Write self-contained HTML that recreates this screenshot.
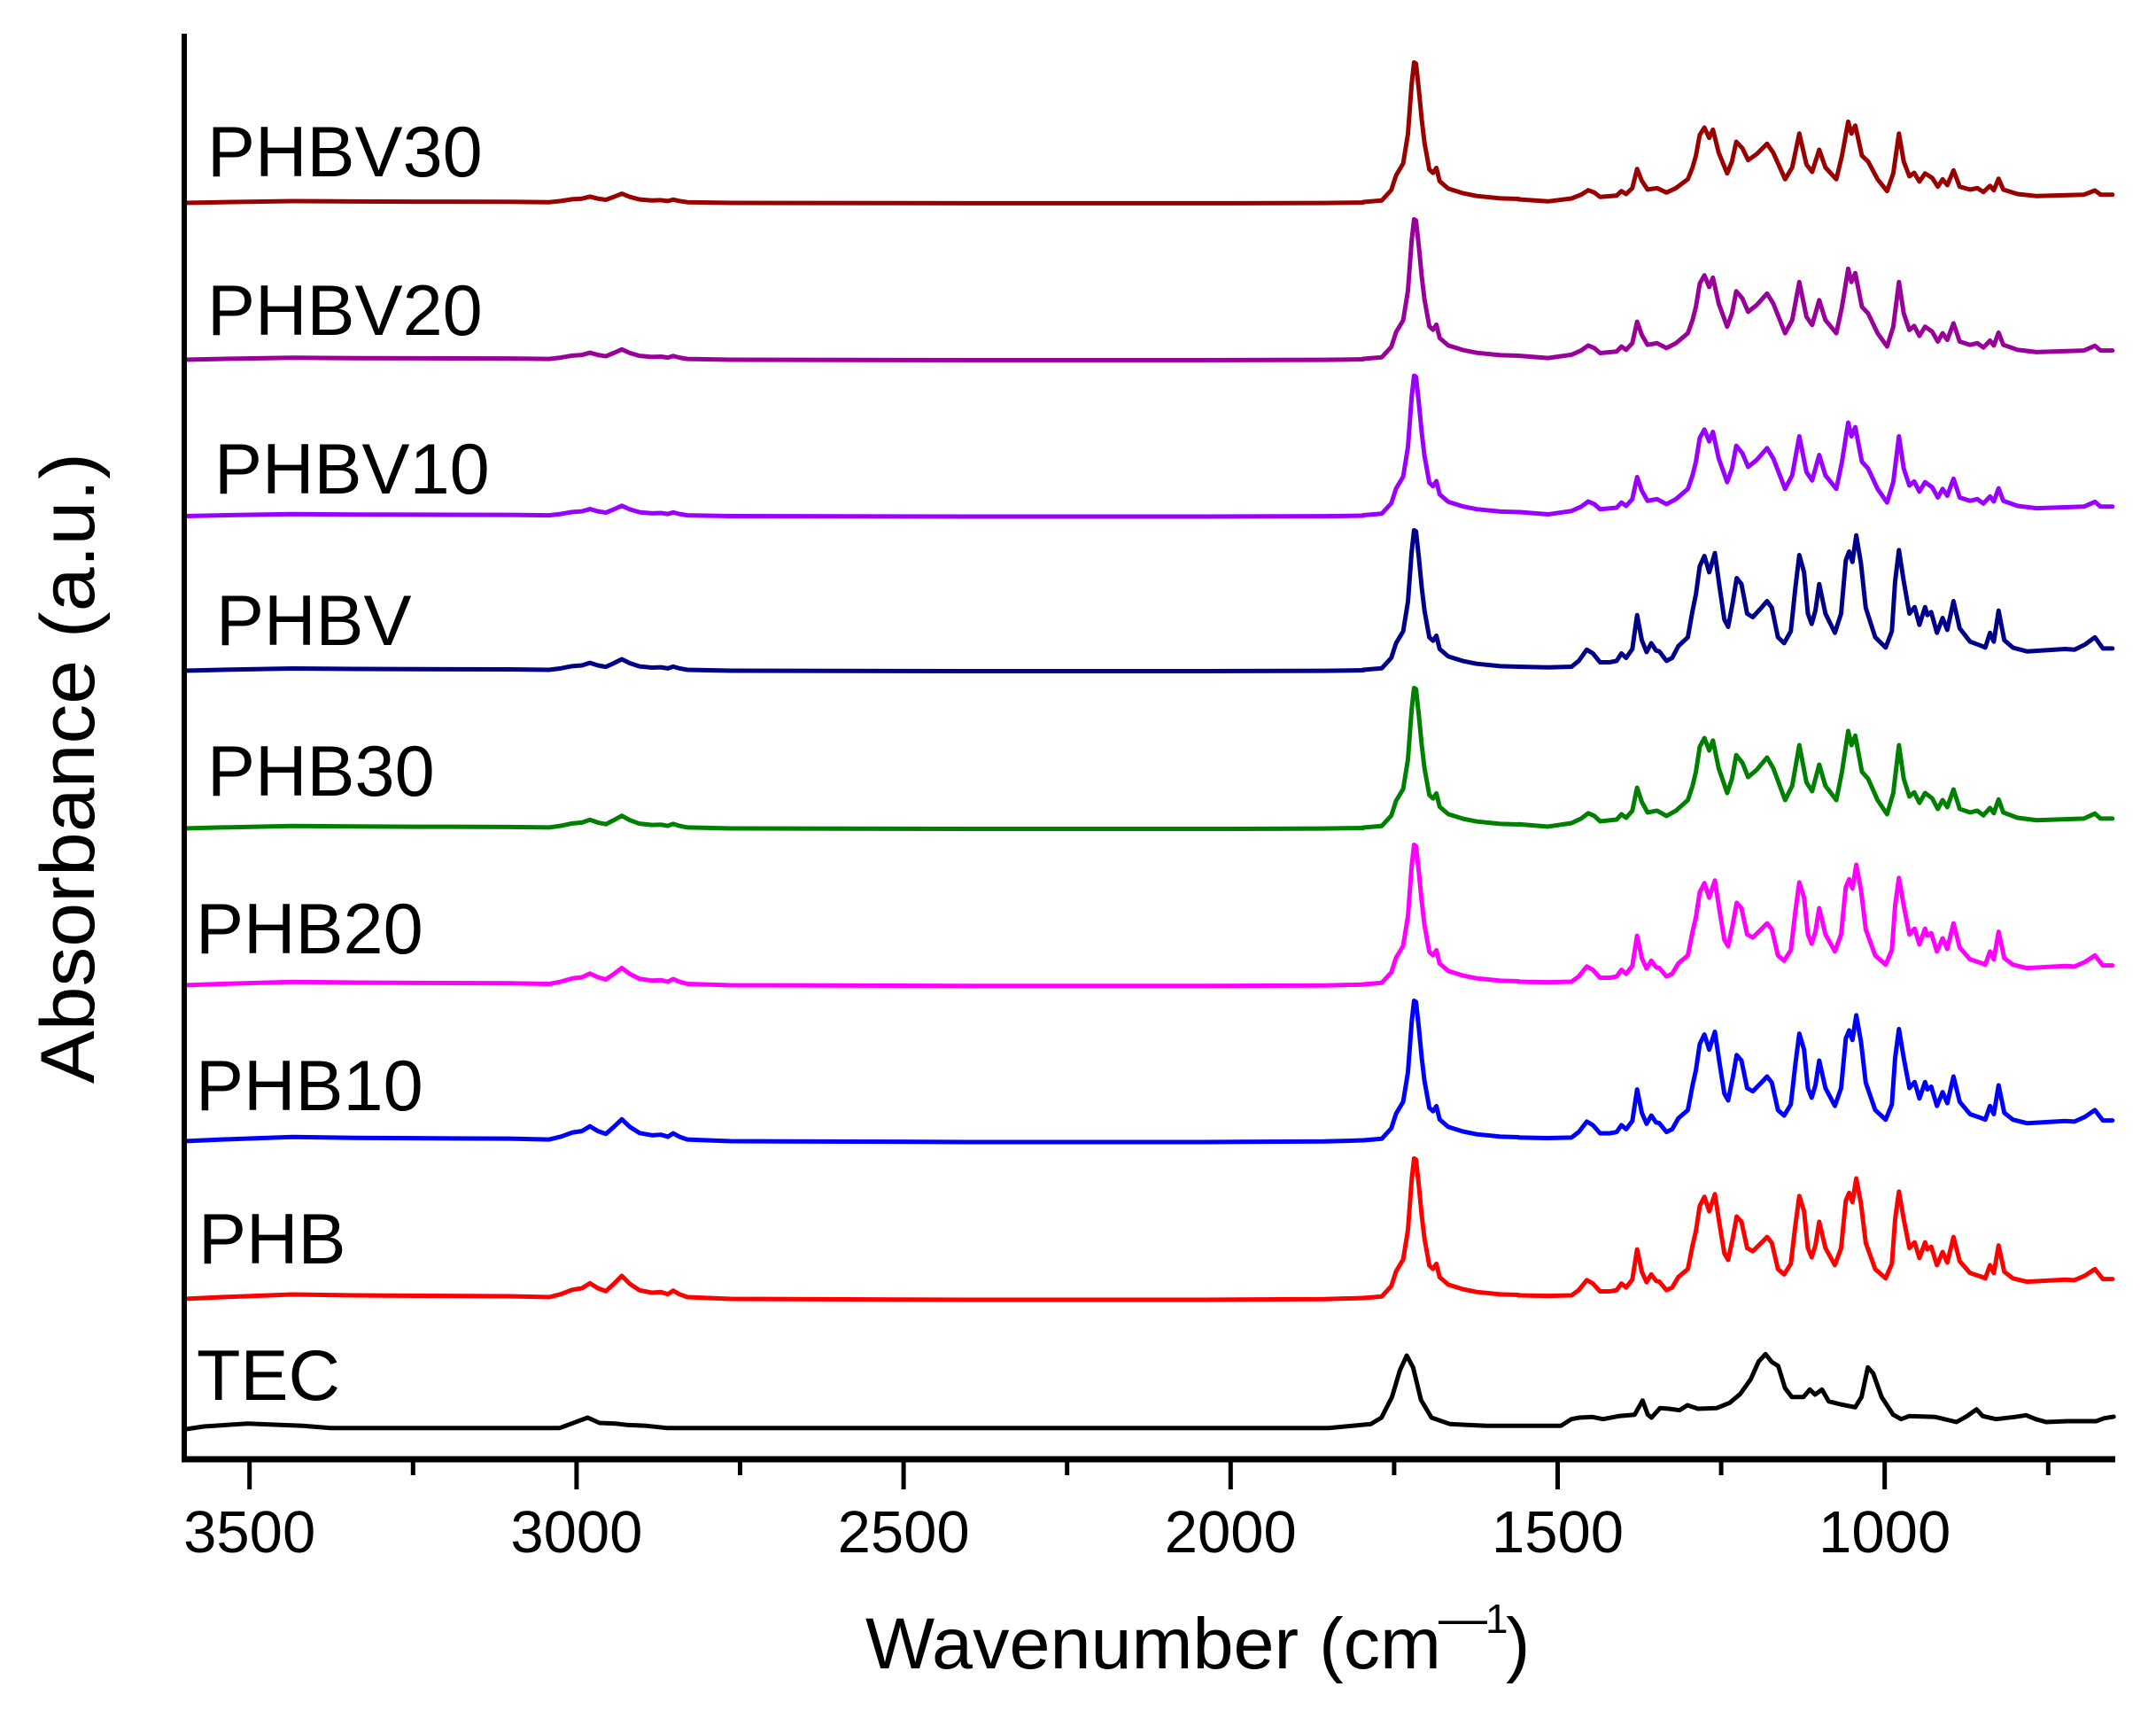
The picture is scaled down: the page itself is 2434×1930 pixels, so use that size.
<!DOCTYPE html>
<html>
<head>
<meta charset="utf-8">
<style>
html,body{margin:0;padding:0;background:#fff;}
svg{display:block;}
text{font-family:"Liberation Sans",Arial,sans-serif;fill:#000;}
</style>
</head>
<body>
<svg width="2434" height="1930" viewBox="0 0 2434 1930" xmlns="http://www.w3.org/2000/svg">
<rect x="0" y="0" width="2434" height="1930" fill="#fff"/>
<defs>
<path id="L" fill="none" vector-effect="non-scaling-stroke" d="M208,0 L250,-2 L330,-5 L400,-4 L470,-3.5 L575,-3 L620,-2 L633,-5.3 L646,-10.3 L657,-12 L666,-17.7 L675,-12 L684,-8.7 L693,-17 L702,-26 L711,-17 L722,-9.7 L736,-7 L746,-7.7 L754,-5.3 L760,-9.3 L767,-5.3 L776,-2 L825,0 L1093,1 L1360,1 L1495,0.3 L1539,-1"/>
<path id="C" fill="none" vector-effect="non-scaling-stroke" d="M1539,-1 L1560,-2.8 L1570.7,-14.5 L1576.1,-31.1 L1584.1,-44.5 L1589.5,-77.8 L1593.7,-134.5 L1596.4,-158.5 L1598.6,-157.1 L1601.8,-127.8 L1605,-94.5 L1608.2,-67.8 L1613.6,-37.8 L1617.8,-33.8 L1621.6,-39.5 L1625.3,-24.5 L1635,-16.1 L1651,-11.1 L1667.1,-7.8 L1693.9,-5.1 L1714.3,-4.5"/>
<path id="FB" fill="none" vector-effect="non-scaling-stroke" d="M1714.3,-4.5 L1747.5,-3.8 L1774.2,-4.5 L1782.3,-11.1 L1791.4,-23.8 L1798.3,-19.5 L1806.4,-9.5 L1817.1,-9.5 L1825.1,-11.1 L1830.5,-19.5 L1835.8,-14.5 L1842.8,-24.5 L1848.2,-62.8 L1853.5,-34.5 L1858.9,-21.1 L1864.2,-31.1 L1869.6,-22.8 L1873.3,-21.8 L1881.4,-11.1 L1887.8,-14.5 L1894.8,-27.8 L1905.5,-37.8 L1910.8,-67.8 L1914.6,-86.1 L1918.9,-117.8 L1924.2,-129.5 L1929.6,-111.1 L1936,-132.8 L1941.3,-94.5 L1946.7,-57.8 L1951,-49.5 L1956.3,-77.8 L1960.6,-104.5 L1966,-97.8 L1972.4,-64.5 L1978.8,-60.5 L1988.5,-71.1 L1994.9,-78.5 L2000.3,-71.1 L2007.2,-37.8 L2014.2,-31.1 L2021.7,-44.5 L2027,-94.5 L2031.3,-130.5 L2036.7,-111.1 L2041,-64.5 L2045.3,-52.8 L2049.5,-67.8 L2053.8,-97.8 L2060.8,-64.5 L2071.5,-42.8 L2078.5,-64.5 L2083.8,-124.5 L2087.6,-134.5 L2091.3,-122.8 L2095.6,-152.8 L2100.9,-121.1 L2106.3,-71.1 L2117,-37.8 L2128.8,-26.1 L2135.8,-44.5 L2139.5,-101.1 L2143.8,-136.1 L2149.2,-101.1 L2155.6,-64.5 L2161.5,-71.8 L2166.9,-51.8 L2173.3,-71.8 L2175.9,-62.8 L2180.2,-66.1 L2186.7,-42.8 L2193.1,-59.5 L2198.4,-46.1 L2205.4,-78.5 L2212.4,-47.8 L2224.1,-32.8 L2237.5,-27.8 L2241.3,-26.1 L2246.6,-42.8 L2250.9,-32.8 L2256.3,-67.8 L2262.7,-34.5 L2272.4,-26.1 L2288.4,-21.8 L2331.3,-24.5 L2342,-23.8 L2353.8,-29.5 L2365,-37.8 L2374.1,-25.1 L2384.8,-25.1"/>
<path id="FA" fill="none" vector-effect="non-scaling-stroke" d="M1714.3,-4 L1747.5,-1.7 L1774.2,-5 L1785,-9.3 L1793,-14.3 L1800,-11.7 L1806.4,-6.7 L1825.1,-8.3 L1830.5,-13.3 L1835.8,-10 L1842.8,-16.7 L1848.2,-38.3 L1853.5,-25 L1860,-15 L1870.6,-16.7 L1881.4,-11.7 L1892.1,-16.7 L1905.5,-26.7 L1910.8,-40 L1914.6,-53.3 L1918.9,-76.7 L1924.2,-85 L1929.6,-73.3 L1933.8,-82.7 L1940.3,-56.7 L1949.9,-33.3 L1955.3,-46.7 L1960.1,-69 L1967.1,-61.7 L1973.5,-48.3 L1983.1,-55 L1994.9,-66.7 L2001.9,-56.7 L2015.3,-26.7 L2023.3,-40 L2031.3,-78.3 L2039.4,-43.3 L2045.8,-35 L2053.8,-60 L2060.8,-40 L2073.1,-26.7 L2079.5,-53.3 L2086.5,-91.7 L2090.2,-78.3 L2094.5,-87.3 L2102,-53.3 L2109,-46.7 L2119.7,-26.7 L2130.4,-13.3 L2137.4,-33.3 L2143.8,-78.3 L2149.2,-46.7 L2155.6,-30 L2161,-34 L2166.9,-24 L2173.3,-33.3 L2181.3,-28.3 L2187.7,-18.3 L2193.1,-26.7 L2198.4,-20 L2205.4,-36.7 L2212.4,-18.3 L2224.1,-15 L2232.2,-16.7 L2239.2,-12.3 L2246.6,-19.3 L2250.9,-14.3 L2256.3,-27.3 L2261.6,-15 L2277.7,-10 L2299.1,-7.7 L2352.7,-9.3 L2365,-14 L2371.4,-9.3 L2384.8,-9.3"/>
</defs>

<g fill="none" stroke-width="5" stroke-linejoin="round" stroke-linecap="round">
  <g transform="translate(0,229)" stroke="#990000">
    <use href="#L" transform="scale(1,0.4)"/><use href="#C"/><use href="#FA"/>
  </g>
  <g transform="translate(0,406)" stroke="#990099">
    <use href="#L" transform="scale(1,0.45)"/><use href="#C"/><use href="#FA" transform="scale(1,1.12)"/>
  </g>
  <g transform="translate(0,582.5)" stroke="#9900FF">
    <use href="#L" transform="scale(1,0.45)"/><use href="#C"/><use href="#FA" transform="scale(1,1.15)"/>
  </g>
  <g transform="translate(0,757)" stroke="#000088">
    <use href="#L" transform="scale(1,0.5)"/><use href="#C"/><use href="#FB"/>
  </g>
  <g transform="translate(0,935)" stroke="#008000">
    <use href="#L" transform="scale(1,0.55)"/><use href="#C"/><use href="#FA" transform="scale(1,1.2)"/>
  </g>
  <g transform="translate(0,1112)" stroke="#FF00FF">
    <use href="#L" transform="scale(1,0.75)"/><use href="#C"/><use href="#FB" transform="scale(1,0.89)"/>
  </g>
  <g transform="translate(0,1288)" stroke="#0000FF">
    <use href="#L" transform="scale(1,0.95)"/><use href="#C"/><use href="#FB" transform="scale(1,0.93)"/>
  </g>
  <g transform="translate(0,1466)" stroke="#FF0000">
    <use href="#L"/><use href="#C"/><use href="#FB" transform="scale(1,0.89)"/>
  </g>
  <path stroke="#000" d="M210,1613 L230,1610 L279.5,1606.7 L342,1609.3 L373,1611.7 L632,1611.7 L645.5,1606.7 L663.4,1600 L676.8,1606 L694.6,1606.7 L708,1608.3 L730,1609.3 L752.6,1611.7 L1500,1611.7 L1547.6,1607.3 L1559.6,1600 L1571.5,1576.7 L1580.4,1546.7 L1588.1,1530 L1595.3,1543.3 L1604.2,1580 L1616.1,1600 L1637,1607.3 L1678.7,1609.3 L1762.1,1609.3 L1774,1601.7 L1782.9,1600 L1797.8,1599.3 L1809.7,1601.7 L1827.6,1598.3 L1845.4,1596.7 L1854.4,1580.7 L1860.3,1596.7 L1864.5,1600 L1874,1589.3 L1884.2,1590 L1896.1,1591.7 L1905,1586 L1916.9,1590 L1937.8,1589.3 L1952.7,1583.3 L1964.6,1573.3 L1976.5,1556.7 L1985.4,1536.7 L1993.2,1528.3 L2000.3,1537.3 L2007.5,1541.7 L2015.2,1566.7 L2022.9,1576.7 L2036,1576.7 L2043.2,1568.3 L2049.1,1574 L2056.9,1568.3 L2064.6,1581.7 L2077.7,1585 L2094.4,1588.3 L2101.6,1576.7 L2108.7,1543.3 L2114.7,1550 L2124.2,1576.7 L2137.3,1596.7 L2146.2,1601.7 L2155.2,1598.3 L2184.9,1599.3 L2208.8,1605 L2220.7,1598.3 L2231.4,1590.7 L2238.5,1598.3 L2253.4,1601.7 L2274.3,1599.3 L2287.4,1597.3 L2298.1,1601.7 L2310,1605 L2333.8,1604 L2366.6,1604 L2375.5,1600.7 L2386.2,1599"/>
</g>

<g stroke="#000" fill="none">
  <line x1="208" y1="38" x2="208" y2="1650" stroke-width="6"/>
  <line x1="205" y1="1647" x2="2388" y2="1647" stroke-width="7"/>
  <path stroke-width="5" d="M281.7,1647V1681 M650.9,1647V1681 M1020.1,1647V1681 M1389.3,1647V1681 M1758.5,1647V1681 M2127.7,1647V1681"/>
  <path stroke-width="5" d="M466.3,1647V1665 M835.5,1647V1665 M1204.7,1647V1665 M1573.9,1647V1665 M1943.1,1647V1665 M2312.3,1647V1665"/>
</g>

<g font-size="67" text-anchor="middle">
  <text x="281.7" y="1752">3500</text>
  <text x="650.9" y="1752">3000</text>
  <text x="1020.1" y="1752">2500</text>
  <text x="1389.3" y="1752">2000</text>
  <text x="1758.5" y="1752">1500</text>
  <text x="2127.7" y="1752">1000</text>
</g>

<text x="977" y="1883" font-size="82" textLength="650" lengthAdjust="spacingAndGlyphs">Wavenumber (cm</text>
<text x="1624" y="1845" font-size="55" textLength="55" lengthAdjust="spacingAndGlyphs">—</text>
<text x="1677" y="1843" font-size="46">1</text>
<text x="1700" y="1883" font-size="82">)</text>

<text transform="translate(106,867) rotate(-90)" text-anchor="middle" font-size="86" textLength="712" lengthAdjust="spacingAndGlyphs">Absorbance (a.u.)</text>

<g font-size="81">
  <text x="234" y="199">PHBV30</text>
  <text x="234" y="378">PHBV20</text>
  <text x="242" y="557">PHBV10</text>
  <text x="244" y="728">PHBV</text>
  <text x="234" y="898">PHB30</text>
  <text x="221" y="1076">PHB20</text>
  <text x="221" y="1253">PHB10</text>
  <text x="224" y="1426">PHB</text>
  <text x="222" y="1580">TEC</text>
</g>
</svg>
</body>
</html>
